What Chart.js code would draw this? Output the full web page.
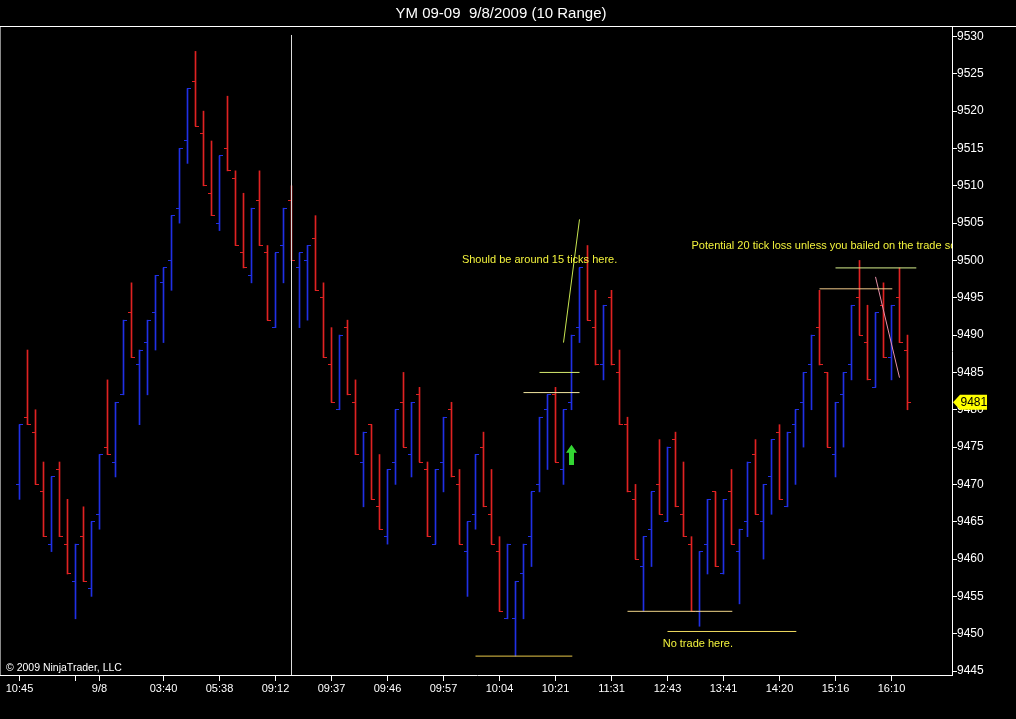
<!DOCTYPE html>
<html><head><meta charset="utf-8">
<script src="https://cdn.jsdelivr.net/npm/chart.js@4.4.1/dist/chart.umd.min.js"></script>
<style>html,body{margin:0;padding:0;background:#000;overflow:hidden}#wrap{width:1016px;height:719px}</style>
</head><body><div id="wrap"><canvas id="c" width="1016" height="719"></canvas></div>
<script>
// ---- data (YM 09-09, 10 range bars) ----
const barOpen = [
9470,9479,9477,9469,9462,9472,9462,9457,9463,9456,
9466,9475,9473,9482,9493,9486,9489,9493,9497,9500,
9507,9516,9524,9517,9509,9505,9515,9511,9501,9498,
9508,9501,9491,9502,9508,9499,9500,9503,9495,9486,
9480,9491,9481,9473,9478,9467,9463,9473,9481,9474,
9482,9472,9462,9473,9480,9470,9461,9466,9475,9466,
9461,9452,9452,9458,9463,9470,9480,9482,9472,9481,
9491,9500,9491,9486,9495,9485,9478,9468,9459,9464,
9470,9465,9476,9466,9462,9453,9462,9469,9458,9469,
9461,9465,9474,9465,9471,9477,9467,9478,9481,9486,
9491,9485,9474,9482,9486,9495,9489,9483,9494,9487,9495,9488];
const barHigh = [
9478,9488,9480,9473,9471,9473,9468,9462,9467,9465,
9474,9484,9481,9492,9497,9488,9492,9498,9499,9506,
9515,9523,9528,9520,9516,9514,9522,9512,9509,9507,
9512,9502,9501,9507,9510,9501,9502,9506,9497,9491,
9490,9492,9484,9477,9478,9474,9472,9480,9485,9481,
9483,9473,9472,9479,9481,9472,9465,9474,9477,9472,
9463,9462,9457,9462,9469,9479,9482,9483,9480,9490,
9499,9502,9496,9494,9496,9488,9479,9470,9463,9469,
9476,9475,9477,9473,9463,9461,9468,9469,9468,9472,
9464,9473,9476,9470,9476,9478,9477,9480,9485,9490,
9496,9485,9481,9485,9494,9500,9494,9493,9497,9494,9499,9490];
const barLow = [
9468,9478,9470,9463,9461,9463,9458,9452,9457,9455,
9464,9474,9471,9482,9487,9478,9482,9488,9489,9496,
9505,9513,9518,9510,9506,9504,9512,9502,9499,9497,
9502,9492,9491,9497,9500,9491,9492,9496,9487,9481,
9480,9482,9474,9467,9468,9464,9462,9470,9475,9471,
9473,9463,9462,9469,9471,9462,9455,9464,9467,9462,
9453,9452,9447,9452,9459,9469,9472,9473,9470,9480,
9489,9492,9486,9484,9486,9478,9469,9460,9453,9459,
9466,9465,9467,9463,9453,9451,9458,9459,9458,9462,
9454,9463,9466,9460,9466,9468,9467,9470,9475,9480,
9486,9475,9471,9475,9484,9490,9484,9483,9487,9484,9489,9480];
const barClose = [
9478,9478,9470,9463,9471,9463,9458,9462,9457,9465,
9474,9474,9481,9492,9487,9488,9492,9498,9499,9506,
9515,9523,9518,9510,9506,9514,9512,9502,9499,9507,
9502,9492,9501,9507,9500,9501,9502,9496,9487,9481,
9490,9482,9474,9477,9468,9464,9472,9480,9475,9481,
9473,9463,9472,9479,9471,9462,9465,9474,9467,9462,
9453,9462,9457,9462,9469,9479,9482,9473,9480,9490,
9499,9492,9486,9494,9486,9478,9469,9460,9463,9469,
9466,9475,9467,9463,9453,9461,9468,9459,9468,9462,
9464,9473,9466,9470,9476,9468,9477,9480,9485,9490,
9486,9475,9481,9485,9494,9490,9484,9493,9487,9494,9489,9481];

const xTickIdx    = [0, 7, 10, 18, 25, 32, 39, 46, 53, 60, 67, 74, 81, 88, 95, 102, 109];
const xTickLabels = ['10:45','','9/8','03:40','05:38','09:12','09:37','09:46','09:57','10:04','10:21','11:31','12:43','13:41','14:20','15:16','16:10'];
const yTickVals   = [9445,9450,9455,9460,9465,9470,9475,9480,9485,9490,9495,9500,9505,9510,9515,9520,9525,9530];
const lastPrice = 9481;
const titleText = 'YM 09-09  9/8/2009 (10 Range)';

// drawn annotation segments (bar index / price)
const segX1 = [34, 68, 65, 63, 57, 76, 81, 102, 100, 107];
const segY1 = [9530.2, 9489, 9485, 9482.3, 9447, 9453, 9450.3, 9499, 9496.2, 9497.8];
const segX2 = [34, 70, 70, 70, 69.1, 89.1, 97.1, 112.1, 109.1, 110];
const segY2 = [9444.4, 9505.5, 9485, 9482.3, 9447, 9453, 9450.3, 9499, 9496.2, 9484.3];
const segColor = ['#dcdcdc','#c8e650','#d8ec70','#f2e6a0','#e8c848','#f0d488','#f0dc60','#d8f08c','#f0c88a','#e890a8'];

const noteTexts = ['Should be around 15 ticks here.', 'No trade here.', 'Potential 20 tick loss unless you bailed on the trade so'];
const noteX = [55.3, 80.4, 84.0];
const noteY = [9500.0, 9448.6, 9501.9];

const arrowX = 69, arrowBase = 9472.6, arrowTop = 9475.3;

// ---- rendering ----
const FONT = '"Liberation Sans", Arial, sans-serif';
const UP = '#2030e4', DN = '#e02222';
const isUp = i => barClose[i] >= barOpen[i];
function tickCanvas(color, side) {
  const c = document.createElement('canvas'); c.width = 7; c.height = 1;
  const g = c.getContext('2d'); g.fillStyle = color;
  if (side === 'L') g.fillRect(0, 0, 4, 1); else g.fillRect(3, 0, 4, 1);
  return c;
}
const upL = tickCanvas(UP, 'L'), upR = tickCanvas(UP, 'R'), dnL = tickCanvas(DN, 'L'), dnR = tickCanvas(DN, 'R');
const idx = barOpen.map((_, i) => i);

const datasets = [];
segX1.forEach((x1, k) => {
  datasets.push({type: 'line', data: [{x: x1, y: segY1[k]}, {x: segX2[k], y: segY2[k]}],
    borderColor: segColor[k], borderWidth: 1, pointRadius: 0, fill: false, tension: 0, order: 0});
});
datasets.push({type: 'bar', data: idx.map(i => ({x: i, y: [barLow[i], barHigh[i]]})),
  backgroundColor: ctx => isUp(ctx.dataIndex) ? UP : DN, barThickness: 1, grouped: false, order: 3});
datasets.push({type: 'line', showLine: false, data: idx.map(i => ({x: i, y: barOpen[i]})),
  pointStyle: ctx => isUp(ctx.dataIndex) ? upL : dnL, pointRadius: 1, order: 2});
datasets.push({type: 'line', showLine: false, data: idx.map(i => ({x: i, y: barClose[i]})),
  pointStyle: ctx => isUp(ctx.dataIndex) ? upR : dnR, pointRadius: 1, order: 2});

const deco = {
  id: 'deco',
  beforeDraw(ch) { const g = ch.ctx; g.save(); g.fillStyle = '#000'; g.fillRect(0, 0, ch.width, ch.height); g.restore(); },
  afterDraw(ch) {
    const g = ch.ctx, xs = ch.scales.x, ys = ch.scales.y, a = ch.chartArea;
    g.save();
    g.strokeStyle = '#fff'; g.lineWidth = 1;
    g.beginPath(); g.moveTo(0, a.top - 0.5); g.lineTo(ch.width, a.top - 0.5); g.stroke();
    g.beginPath(); g.moveTo(0, a.bottom + 0.5); g.lineTo(a.left, a.bottom + 0.5); g.stroke();
    g.strokeStyle = '#8a8a8a'; g.beginPath(); g.moveTo(0.5, a.top); g.lineTo(0.5, a.bottom); g.stroke();
    g.fillStyle = '#fff'; g.font = '15px ' + FONT; g.textAlign = 'center'; g.textBaseline = 'middle';
    g.fillText(titleText, 501, 14);
    // notes
    g.save();
    g.beginPath(); g.rect(a.left, a.top, a.right - a.left, a.bottom - a.top); g.clip();
    g.fillStyle = '#f2f23c'; g.font = '11px ' + FONT; g.textAlign = 'left';
    noteTexts.forEach((t, k) => g.fillText(t, xs.getPixelForValue(noteX[k]), ys.getPixelForValue(noteY[k])));
    // arrow
    const ax = xs.getPixelForValue(arrowX), yt = ys.getPixelForValue(arrowTop), yb = ys.getPixelForValue(arrowBase);
    g.fillStyle = '#33d633';
    g.beginPath(); g.moveTo(ax, yt); g.lineTo(ax + 5.5, yt + 8); g.lineTo(ax + 2.5, yt + 8); g.lineTo(ax + 2.5, yb);
    g.lineTo(ax - 2.5, yb); g.lineTo(ax - 2.5, yt + 8); g.lineTo(ax - 5.5, yt + 8); g.closePath(); g.fill();
    g.restore();
    // copyright
    g.fillStyle = '#fff'; g.font = '10.5px ' + FONT; g.textAlign = 'left'; g.textBaseline = 'middle';
    g.fillText('\u00A9 2009 NinjaTrader, LLC', 6, 668.5);
    // last price marker
    const py = ys.getPixelForValue(lastPrice), r = a.right;
    g.fillStyle = '#ffff00';
    g.beginPath(); g.moveTo(r + 1, py); g.lineTo(r + 8, py - 7.5); g.lineTo(r + 35, py - 7.5); g.lineTo(r + 35, py + 7.5);
    g.lineTo(r + 8, py + 7.5); g.closePath(); g.fill();
    g.fillStyle = '#000'; g.font = '12px ' + FONT; g.fillText(String(lastPrice), r + 8.5, py + 0.5);
    g.restore();
  }
};

new Chart(document.getElementById('c'), {
  type: 'bar',
  data: {datasets},
  plugins: [deco],
  options: {
    responsive: false, animation: false, events: [],
    layout: {autoPadding: false, padding: {left: 2, top: 27, right: 0, bottom: 0}},
    plugins: {legend: {display: false}, tooltip: {enabled: false}, title: {display: false}},
    scales: {
      x: {type: 'linear', min: -2.1875, max: 116.5625, offset: false,
        grid: {display: true, offset: false, drawOnChartArea: false, drawTicks: true, tickLength: 6, color: '#fff'},
        border: {display: true, color: '#fff', width: 1},
        ticks: {color: '#fff', font: {family: FONT, size: 11}, padding: 1, autoSkip: false, maxRotation: 0, minRotation: 0,
          callback: v => { const k = xTickIdx.indexOf(v); return k >= 0 ? xTickLabels[k] : ''; }},
        afterBuildTicks: s => { s.ticks = xTickIdx.map(v => ({value: v})); },
        afterFit: s => { s.height = 44; s.paddingLeft = 0; s.paddingRight = 0; }
      },
      y: {type: 'linear', position: 'right', min: 9444.47, max: 9531.27,
        grid: {display: true, drawOnChartArea: false, drawTicks: true, tickLength: 5, color: '#fff'},
        border: {display: true, color: '#fff', width: 1},
        ticks: {color: '#fff', font: {family: FONT, size: 12}, padding: 0, callback: v => String(v)},
        afterBuildTicks: s => { s.ticks = yTickVals.map(v => ({value: v})); },
        afterFit: s => { s.width = 64; s.paddingTop = 0; s.paddingBottom = 0; }
      }
    }
  }
});
</script></body></html>
